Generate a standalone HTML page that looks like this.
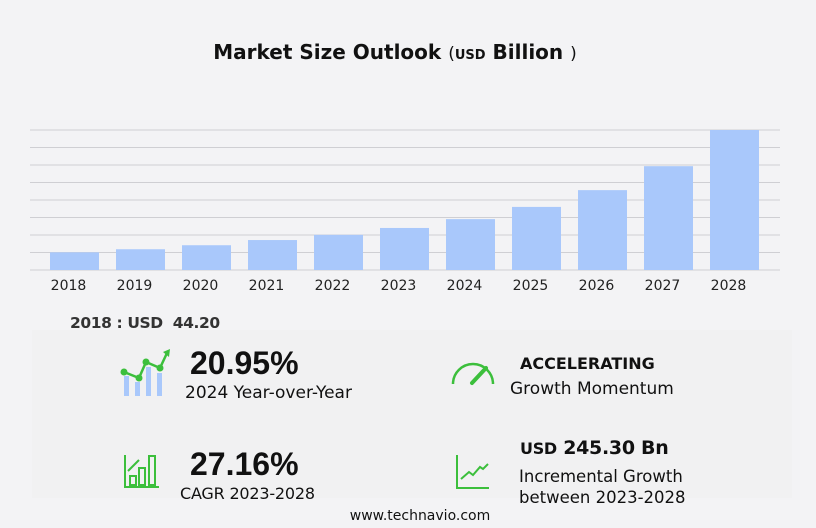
<!DOCTYPE html>
<html><head><meta charset="utf-8"><style>
body{margin:0;width:816px;height:528px;background:#f3f3f5;font-family:"Liberation Sans","DejaVu Sans",sans-serif;position:relative;overflow:hidden;color:#111}
.abs{position:absolute}
.t{font-family:"DejaVu Sans","Liberation Sans",sans-serif}
.big{font-family:"Liberation Sans",sans-serif;font-weight:bold;font-size:32px}
</style></head><body>
<div class="abs t" style="left:0;width:790px;top:40px;text-align:center;font-weight:bold;font-size:20px">Market Size Outlook <span style="font-size:17px;font-weight:normal">(</span><span style="font-size:13px">USD</span> Billion <span style="font-size:17px;font-weight:normal">)</span></div>
<svg class="abs" style="left:0;top:0" width="816" height="300">
<g id="grid"></g><g id="bars"></g><g id="labels"></g>
</svg>
<div class="abs" style="left:32px;top:330px;width:760px;height:168px;background:#f1f1f2"></div>
<div class="abs t" style="left:70px;top:314px;font-weight:bold;font-size:15.5px;letter-spacing:-0.4px;color:#333">2018 : USD&nbsp; 44.20</div>

<svg class="abs" style="left:118px;top:348px" width="55" height="50">
<rect x="6" y="28" width="5" height="20" fill="#a9c8fb"/><rect x="17" y="34" width="5" height="14" fill="#a9c8fb"/><rect x="28" y="19" width="5" height="29" fill="#a9c8fb"/><rect x="39" y="25" width="5" height="23" fill="#a9c8fb"/>
<polyline points="6,24 21,30 28,14 42,20 49,5" fill="none" stroke="#3cbf3c" stroke-width="2.5"/>
<circle cx="6" cy="24" r="3.5" fill="#3cbf3c"/><circle cx="21" cy="30" r="3.5" fill="#3cbf3c"/><circle cx="28" cy="14" r="3.5" fill="#3cbf3c"/><circle cx="42" cy="20" r="3.5" fill="#3cbf3c"/><polygon points="45,4 52,1 51,9" fill="#3cbf3c"/>
</svg>
<div class="abs big" style="left:190px;top:345px">20.95%</div>
<div class="abs t" style="left:185px;top:383px;font-size:17px">2024 Year-over-Year</div>

<svg class="abs" style="left:450px;top:358px" width="46" height="30">
<path d="M3,26 A20,20 0 0 1 43,26" fill="none" stroke="#3cbf3c" stroke-width="2.5"/>
<line x1="22" y1="25" x2="36" y2="10" stroke="#3cbf3c" stroke-width="4" stroke-linecap="round"/>
</svg>
<div class="abs t" style="left:520px;top:354px;font-weight:bold;font-size:16px">ACCELERATING</div>
<div class="abs t" style="left:510px;top:379px;font-size:17px">Growth Momentum</div>

<svg class="abs" style="left:124px;top:454px" width="36" height="36">
<g fill="none" stroke="#3cbf3c" stroke-width="2"><polyline points="1,1 1,33 35,33"/><rect x="6" y="22" width="6" height="9"/><rect x="15" y="14" width="6" height="17"/><rect x="25" y="2" width="6" height="29"/><polyline points="4,17 15,6"/></g>
</svg>
<div class="abs big" style="left:190px;top:446px">27.16%</div>
<div class="abs t" style="left:180px;top:484px;font-size:16px;letter-spacing:-0.2px">CAGR 2023-2028</div>

<svg class="abs" style="left:455px;top:455px" width="36" height="36">
<g fill="none" stroke="#3cbf3c" stroke-width="2"><polyline points="2,0 2,33 34,33"/><polyline points="6,24 14,17 18,20 25,12 28,14 33,9"/></g>
</svg>
<div class="abs t" style="left:520px;top:437px;font-weight:bold;font-size:19px;letter-spacing:-0.3px"><span style="font-size:16px">USD</span>&nbsp;245.30 Bn</div>
<div class="abs t" style="left:519px;top:466px;font-size:16.5px;line-height:21px">Incremental Growth<br>between 2023-2028</div>
<div class="abs t" style="left:0;width:840px;top:508px;text-align:center;font-size:14px">www.technavio.com</div>
<script>
const categories=["2018","2019","2020","2021","2022","2023","2024","2025","2026","2027","2028"];
const values=[44.2,52,62,75,88,105.3,127.4,158,200,260,350.6];
const yMax=350.6;
const NS="http://www.w3.org/2000/svg";
const baseY=270,topY=130,x0=50,step=66,bw=49;
function yScale(v){return baseY-(v/yMax)*(baseY-topY);}
const grid=document.getElementById('grid'),bars=document.getElementById('bars'),labels=document.getElementById('labels');
for(let i=0;i<=8;i++){const l=document.createElementNS(NS,'line');const gy=baseY-(baseY-topY)*i/8;
l.setAttribute('x1',30);l.setAttribute('x2',780);l.setAttribute('y1',gy);l.setAttribute('y2',gy);l.setAttribute('stroke','#cfcfd3');l.setAttribute('stroke-width',1);


grid.appendChild(l);}
categories.forEach((c,i)=>{const r=document.createElementNS(NS,'rect');
r.setAttribute('x',x0+i*step);r.setAttribute('width',bw);r.setAttribute('y',yScale(values[i]));r.setAttribute('height',baseY-yScale(values[i]));r.setAttribute('fill','#a9c8fb');


bars.appendChild(r);
const t=document.createElementNS(NS,'text');t.setAttribute('x',x0+i*step+bw/2-6);t.setAttribute('y',290);t.setAttribute('text-anchor','middle');t.setAttribute('font-size','14');t.setAttribute('font-family','DejaVu Sans, Liberation Sans, sans-serif');t.setAttribute('fill','#222');t.textContent=c;


labels.appendChild(t);});
</script>
</body></html>
